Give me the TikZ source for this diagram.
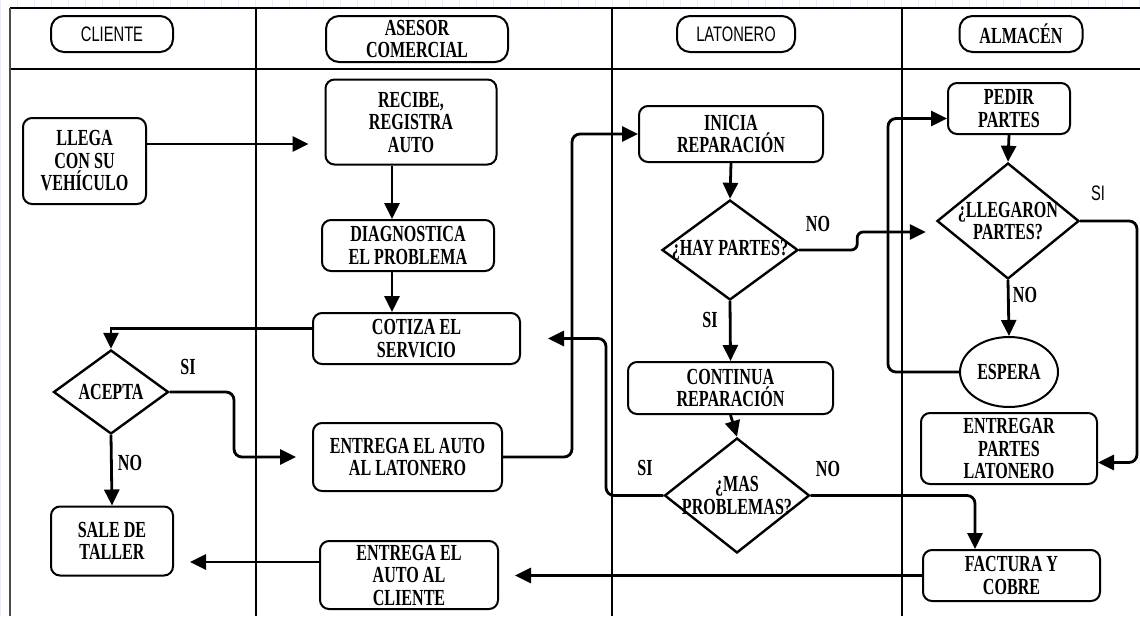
\documentclass[tikz,border=0pt]{standalone}
\usepackage{fontspec}
\setmainfont{Liberation Serif}[FakeStretch=0.70]
\newfontfamily\headsans{Liberation Sans}[FakeStretch=0.70]
\usetikzlibrary{arrows.meta}
\usetikzlibrary{shapes.geometric}

\newcommand{\flowfont}{\fontsize{23}{22.5}\selectfont\bfseries}
\newcommand{\headfont}{\headsans\fontsize{21}{22}\selectfont}

\begin{document}
\begin{tikzpicture}[x=1pt,y=-1pt,
    gridline/.style={blue!8,line width=0.6pt},
    lane/.style={line width=2.6pt},
    pill/.style={draw,line width=2pt,rounded corners=13pt,inner sep=0pt,align=center},
    box/.style={draw,line width=2pt,rounded corners=9pt,inner sep=0pt,align=center,font=\flowfont},
    dia/.style={draw,diamond,line width=2.4pt,inner sep=0pt},
    txt/.style={align=center,font=\flowfont,inner sep=0pt},
    lbl/.style={font=\flowfont,inner sep=0pt},
    arr/.style={line width=2.8pt,-{Triangle[length=16pt,width=15pt]},rounded corners=8pt},
    stopshort/.style={shorten >=16pt}]

    \useasboundingbox (0,0) rectangle (1140,616);

    % page grid
    \draw[gridline] (0,0) grid[step=17] (1140,8);
    \draw[gridline] (0,0) grid[step=17] (10,616);

    % lanes
    \draw[lane] (10,8) -- (1140,8);
    \draw[lane] (10,69) -- (1140,69);
    \draw[line width=1.6pt,black!70] (10,8) -- (10,616);
    \foreach \x in {256,612,902}
        \draw[lane] (\x,8) -- (\x,616);

    % headers
    \node[pill,font=\headfont,minimum width=122pt,minimum height=36pt] (hcli) at (112,34) {CLIENTE};
    \node[pill,font=\flowfont,minimum width=182pt,minimum height=46pt] (hase) at (417,39) {ASESOR\\COMERCIAL};
    \node[pill,font=\headfont,minimum width=118pt,minimum height=36pt] (hlat) at (736,34) {LATONERO};
    \node[pill,font=\flowfont,minimum width=123pt,minimum height=36pt] (halm) at (1021,34) {ALMACÉN};

    % cliente
    \node[box,minimum width=123pt,minimum height=86pt] (llega) at (84.5,161) {LLEGA\\CON SU\\VEHÍCULO};
    \node[dia,minimum width=115pt,minimum height=84pt,label={[txt]center:ACEPTA}] (acepta) at (111,392) {};
    \node[box,minimum width=122pt,minimum height=69pt] (sale) at (112,541) {SALE DE\\TALLER};

    % asesor
    \node[box,minimum width=171pt,minimum height=85pt] (recibe) at (411,122) {RECIBE,\\REGISTRA\\AUTO};
    \node[box,minimum width=172pt,minimum height=51pt] (diag) at (408,245.5) {DIAGNOSTICA\\EL PROBLEMA};
    \node[box,minimum width=207pt,minimum height=51pt] (cotiza) at (416.5,338.5) {COTIZA EL\\SERVICIO};
    \node[box,minimum width=189pt,minimum height=68pt] (entlat) at (407.5,457) {ENTREGA EL AUTO\\AL LATONERO};
    \node[box,minimum width=178pt,minimum height=68pt] (entcli) at (409,575) {ENTREGA EL\\AUTO AL\\CLIENTE};

    % latonero
    \node[box,minimum width=184pt,minimum height=56pt] (inicia) at (731,134) {INICIA\\REPARACIÓN};
    \node[dia,minimum width=136pt,minimum height=100pt,label={[txt]center:¿HAY PARTES?}] (hay) at (730,250) {};
    \node[box,minimum width=205pt,minimum height=52pt] (cont) at (730.5,388) {CONTINUA\\REPARACIÓN};
    \node[dia,minimum width=145pt,minimum height=115pt,label={[txt]center:{¿MAS\\PROBLEMAS?}}] (mas) at (737,495.5) {};

    % almacen
    \node[box,minimum width=122pt,minimum height=51pt] (pedir) at (1009,108.5) {PEDIR\\PARTES};
    \node[dia,minimum width=142pt,minimum height=116pt,label={[txt]center:{¿LLEGARON\\PARTES?}}] (lleg) at (1008,221) {};
    \node[draw,ellipse,line width=2pt,inner sep=0pt,font=\flowfont,minimum width=98pt,minimum height=70pt] (espera) at (1009,372) {ESPERA};
    \node[box,minimum width=176pt,minimum height=71pt] (entp) at (1009,448.5) {ENTREGAR\\PARTES\\LATONERO};
    \node[box,minimum width=177pt,minimum height=51pt] (factura) at (1011.5,575.5) {FACTURA Y\\COBRE};

    % bends
    \coordinate (xa) at (392,0);
    \coordinate (xb) at (234,0);
    \coordinate (xc) at (572,0);
    \coordinate (xd) at (606,0);
    \coordinate (xe) at (975,0);
    \coordinate (xf) at (888,0);
    \coordinate (xg) at (1137,0);
    \coordinate (la) at ([yshift=17pt]llega.east);
    \coordinate (cw) at ([yshift=10pt]cotiza.west);
    \coordinate (cl) at ([yshift=13pt]entcli.west);
    \coordinate (pa) at ([yshift=-10pt]pedir.west);
    \coordinate (eb) at ([yshift=-14pt]entp.east);

    % flow
    \draw[arr,stopshort] (la) -- (la -| recibe.west);
    \draw[arr] (recibe.south -| xa) -- (diag.north -| xa);
    \draw[arr] (diag.south -| xa) -- (cotiza.north -| xa);
    \draw[arr,rounded corners=0pt] (cw) -| (acepta.north);
    \draw[arr,stopshort] (acepta.east) -| (xb |- entlat.west) -- (entlat.west);
    \draw[arr] (acepta.south) -- (sale.north);
    \draw[arr] (entlat.east) -| (xc |- inicia.west) -- (inicia.west);
    \draw[arr] (inicia.south) -- (hay.north);
    \draw[arr,rounded corners=6pt,shorten >=10pt] (hay.east) -- ++(58,0) |- ([yshift=-11pt]lleg.west);
    \draw[arr] (hay.south) -- (cont.north);
    \draw[arr] (cont.south) -- (mas.north);
    \draw[arr,shorten >=27pt] (mas.west) -| (xd |- cotiza.east) -- (cotiza.east);
    \draw[arr] (mas.east) -| (xe |- factura.north);
    \draw[arr,stopshort] (factura.west) -- (factura.west -| entcli.east);
    \draw[arr,stopshort] (cl) -- (cl -| sale.east);
    \draw[arr] (pedir.south) -- (lleg.north);
    \draw[arr] (lleg.south) -- (espera.north);
    \draw[arr] (espera.west) -| (xf |- pa) -- (pa);
    \draw[arr] (lleg.east) -| (xg |- eb) -- (eb);

    % answers
    \node[lbl] (siacep) at (188,367) {SI};
    \node[lbl] (noacep) at (130,463) {NO};
    \node[lbl] (nohay) at (818,224) {NO};
    \node[lbl] (sihay) at (710,320) {SI};
    \node[lbl] (simas) at (645,468) {SI};
    \node[lbl] (nomas) at (828,469) {NO};
    \node[lbl,font=\headfont] (sileg) at (1098,193) {SI};
    \node[lbl] (noleg) at (1025,295) {NO};
\end{tikzpicture}
\end{document}
